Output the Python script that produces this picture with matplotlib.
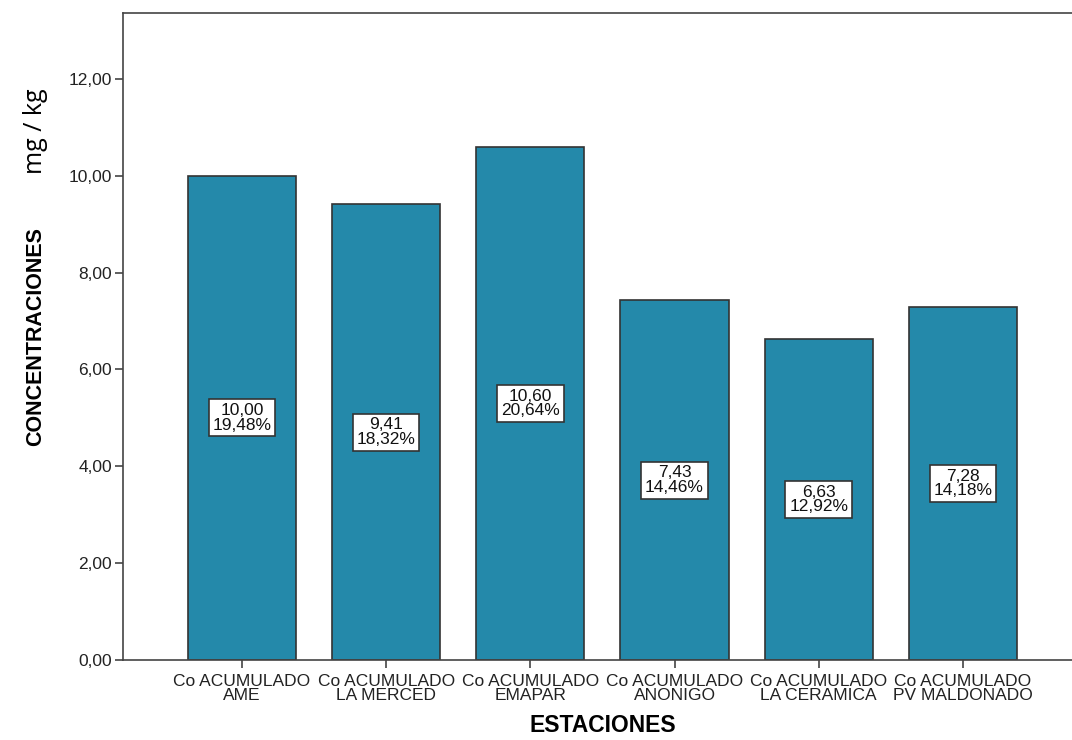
import matplotlib
matplotlib.use("Agg")
import matplotlib.pyplot as plt

# datos de Co acumulado por estación
estaciones = ["Co ACUMULADO\nAME", "Co ACUMULADO\nLA MERCED", "Co ACUMULADO\nEMAPAR",
              "Co ACUMULADO\nANONIGO", "Co ACUMULADO\nLA CERAMICA", "Co ACUMULADO\nPV MALDONADO"]
concentraciones = [10.00, 9.41, 10.60, 7.43, 6.63, 7.28]
porcentajes = [19.48, 18.32, 20.64, 14.46, 12.92, 14.18]
ticks_y = [0, 2, 4, 6, 8, 10, 12]

plt.rcParams['font.family'] = ['Liberation Sans', 'DejaVu Sans']

fig = plt.figure(figsize=(10.72, 7.4), dpi=100)
ax = fig.add_axes([0.1147, 0.1081, 0.8946, 0.8743])

pos = list(range(len(estaciones)))
ax.bar(pos, concentraciones, width=0.75, color="#2489AA", edgecolor="#333333", linewidth=1.2, zorder=2)

# etiqueta con valor y porcentaje en medio de cada barra
for x, v, p in zip(pos, concentraciones, porcentajes):
    txt = f"{v:.2f}".replace(".", ",") + "\n" + f"{p:.2f}".replace(".", ",") + "%"
    ax.text(x, v / 2, txt, ha="center", va="center", fontsize=12.5, linespacing=0.95,
            color="#111111", zorder=3,
            bbox=dict(boxstyle="square,pad=0.22", facecolor="white", edgecolor="#333333", linewidth=1.2))

ax.set_xlim(-0.826, len(estaciones) - 1 + 0.826)
ax.set_ylim(0, 13.36)
ax.set_xticks(pos)
ax.set_xticklabels(estaciones, fontsize=12.5, linespacing=0.9, color="#222222")
ax.set_yticks(ticks_y)
ax.set_yticklabels([f"{t:.2f}".replace(".", ",") for t in ticks_y], fontsize=12.5, color="#222222")
ax.tick_params(axis="both", direction="out", length=6, width=1.2, color="#444444", pad=2)
ax.tick_params(axis="x", pad=4)

for s in ["left", "top", "bottom", "right"]:
    ax.spines[s].set_color("#444444")
    ax.spines[s].set_linewidth(1.2)

ax.set_xlabel("ESTACIONES", fontsize=16.5, fontweight="bold", labelpad=8)
ax.set_ylabel("CONCENTRACIONES", fontsize=15.5, fontweight="bold")
ax.yaxis.set_label_coords(-0.0805, 0.5)
fig.text(0.033, 0.823, "mg / kg", rotation=90, ha="center", va="center", fontsize=18,
         family=["Open Sans", "DejaVu Sans"])

fig.savefig("out.png", dpi=100)
